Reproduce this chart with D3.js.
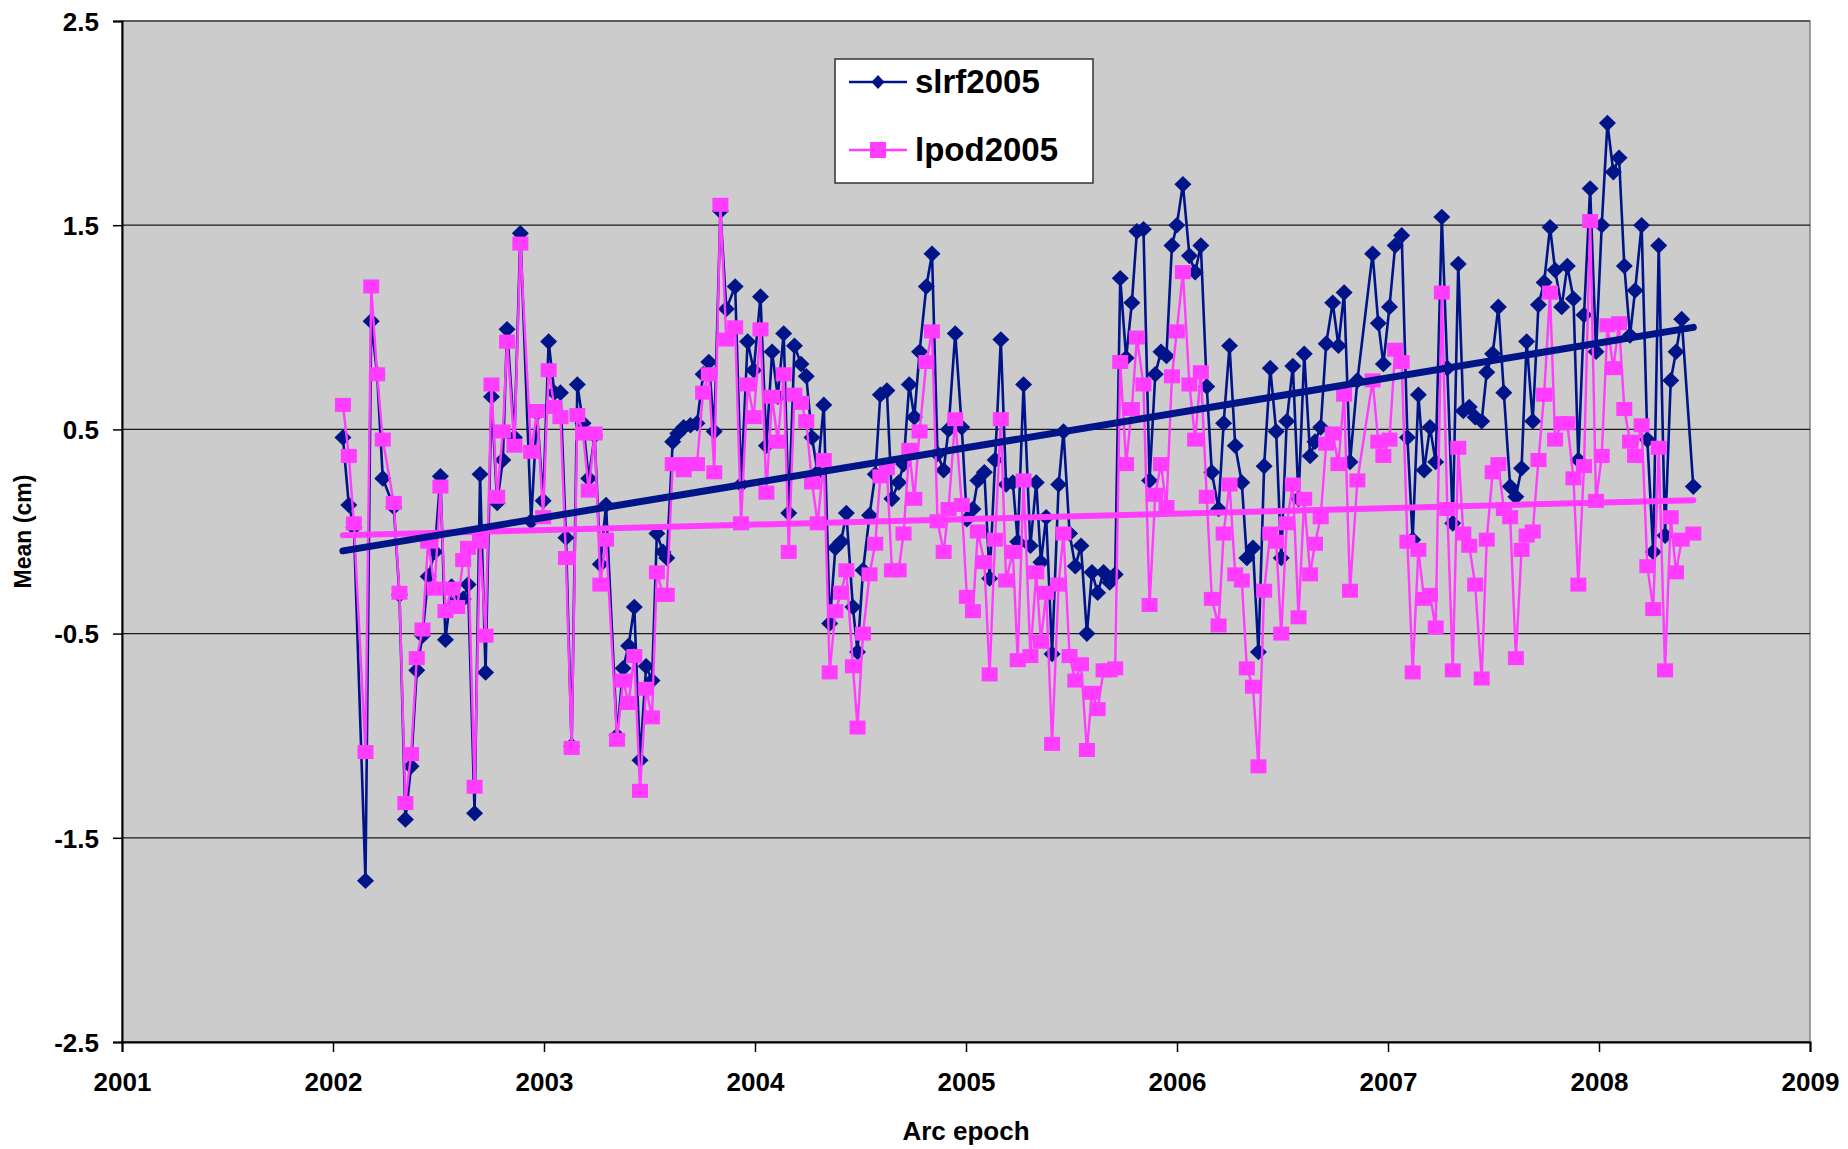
<!DOCTYPE html>
<html>
<head>
<meta charset="utf-8">
<script src="https://cdn.jsdelivr.net/npm/d3@7"></script>
<style>
  body { margin: 0; background: #fff; }
  text { font-family: Arial, "Liberation Sans", sans-serif; font-weight: bold; fill: #000; }
</style>
</head>
<body>
<div id="chart"></div>
<script>
const width = 1848
const height = 1149
const margin = {top: 21, right: 38, bottom: 107, left: 122}

// arc epochs (decimal year)
const epochs = [
  2002.047,2002.075,2002.099,2002.154,2002.181,2002.209,2002.236,2002.288,2002.315,2002.343,
  2002.370,2002.397,2002.424,2002.451,2002.482,2002.509,2002.533,2002.562,2002.589,2002.617,
  2002.640,2002.671,2002.697,2002.723,2002.751,2002.778,2002.805,2002.825,2002.860,2002.888,
  2002.939,2002.967,2002.996,2003.022,2003.049,2003.078,2003.104,2003.131,2003.158,2003.185,
  2003.212,2003.240,2003.267,2003.294,2003.346,2003.375,2003.401,2003.428,2003.455,2003.484,
  2003.512,2003.535,2003.564,2003.582,2003.610,2003.634,2003.662,2003.694,2003.725,2003.754,
  2003.781,2003.807,2003.836,2003.864,2003.906,2003.934,2003.965,2003.994,2004.026,2004.054,
  2004.081,2004.108,2004.136,2004.160,2004.187,2004.218,2004.243,2004.270,2004.297,2004.326,
  2004.354,2004.381,2004.408,2004.433,2004.464,2004.486,2004.512,2004.543,2004.570,2004.594,
  2004.625,2004.649,2004.681,2004.704,2004.731,2004.755,2004.780,2004.812,2004.839,2004.865,
  2004.894,2004.917,2004.949,2004.980,2005.004,2005.033,2005.056,2005.087,2005.112,2005.138,
  2005.165,2005.190,2005.222,2005.245,2005.273,2005.305,2005.333,2005.355,2005.380,2005.408,
  2005.439,2005.462,2005.491,2005.518,2005.545,2005.573,2005.597,2005.624,2005.652,2005.681,
  2005.707,2005.731,2005.759,2005.786,2005.810,2005.841,2005.870,2005.897,2005.924,2005.950,
  2005.976,2005.999,2006.028,2006.059,2006.086,2006.113,2006.141,2006.165,2006.197,2006.221,
  2006.249,2006.276,2006.307,2006.331,2006.360,2006.386,2006.413,2006.442,2006.470,2006.494,
  2006.520,2006.549,2006.576,2006.603,2006.631,2006.654,2006.681,2006.707,2006.738,2006.765,
  2006.792,2006.820,2006.855,2006.927,2006.954,2006.978,2007.007,2007.034,2007.065,2007.092,
  2007.117,2007.144,2007.171,2007.199,2007.226,2007.255,2007.281,2007.307,2007.333,2007.357,
  2007.385,2007.413,2007.444,2007.468,2007.496,2007.523,2007.549,2007.579,2007.606,2007.633,
  2007.657,2007.686,2007.713,2007.740,2007.768,2007.792,2007.823,2007.850,2007.879,2007.902,
  2007.929,2007.958,2007.986,2008.013,2008.040,2008.068,2008.095,2008.120,2008.147,2008.171,
  2008.202,2008.229,2008.257,2008.283,2008.313,2008.340,2008.365,2008.392,2008.447
]

// mean (cm), slrf2005 series
const slrf2005 = [
  0.46,0.13,0.02,-1.71,1.03,0.77,0.26,0.12,-0.31,-1.41,
  -1.15,-0.68,-0.51,-0.22,-0.10,0.27,-0.53,-0.27,-0.34,-0.33,
  -0.26,-1.38,0.28,-0.69,0.66,0.14,0.35,0.99,0.46,1.46,
  0.05,0.58,0.15,0.93,0.68,0.68,-0.03,-1.05,0.72,0.53,
  0.26,0.47,-0.16,0.13,-1.00,-0.67,-0.56,-0.37,-1.12,-0.66,
  -0.73,-0.01,-0.10,-0.13,0.44,0.48,0.51,0.52,0.53,0.77,
  0.83,0.49,1.57,1.09,1.20,0.23,0.93,0.79,1.15,0.42,
  0.88,0.66,0.97,0.09,0.91,0.82,0.76,0.46,0.29,0.62,
  -0.45,-0.08,-0.05,0.09,-0.37,-0.59,-0.19,0.08,0.28,0.67,
  0.69,0.16,0.24,0.33,0.72,0.56,0.88,1.20,1.36,0.38,
  0.30,0.50,0.97,0.51,0.06,0.11,0.25,0.29,-0.23,0.35,
  0.94,0.23,0.24,-0.05,0.72,-0.07,0.24,-0.15,0.07,-0.60,
  0.23,0.49,-0.01,-0.17,-0.07,-0.50,-0.20,-0.30,-0.20,-0.25,
  -0.21,1.24,0.85,1.12,1.47,1.48,0.25,0.77,0.88,0.86,
  1.40,1.50,1.70,1.35,1.27,1.40,0.71,0.29,0.11,0.53,
  0.91,0.42,0.24,-0.13,-0.08,-0.59,0.32,0.80,0.49,-0.13,
  0.54,0.81,0.16,0.87,0.37,0.44,0.51,0.92,1.12,0.91,
  1.17,0.34,0.74,1.36,1.02,0.82,1.10,1.40,1.45,0.46,
  -0.04,0.67,0.30,0.51,0.34,1.54,0.80,0.04,1.31,0.59,
  0.61,0.56,0.54,0.78,0.87,1.10,0.68,0.22,0.17,0.31,
  0.93,0.54,1.11,1.22,1.49,1.28,1.10,1.30,1.14,0.35,
  1.06,1.68,0.88,1.50,2.00,1.76,1.83,1.30,0.96,1.18,
  1.50,0.45,-0.10,1.40,-0.02,0.74,0.88,1.04,0.22
]

// mean (cm), lpod2005 series
const lpod2005 = [
  0.62,0.37,0.04,-1.08,1.20,0.77,0.45,0.14,-0.30,-1.33,
  -1.09,-0.62,-0.48,-0.05,-0.28,0.22,-0.39,-0.28,-0.37,-0.14,
  -0.08,-1.25,-0.05,-0.51,0.72,0.17,0.49,0.93,0.42,1.41,
  0.39,0.59,0.07,0.79,0.61,0.56,-0.13,-1.06,0.57,0.48,
  0.20,0.48,-0.26,-0.04,-1.02,-0.73,-0.84,-0.61,-1.27,-0.77,
  -0.91,-0.20,-0.31,-0.31,0.33,0.33,0.30,0.33,0.33,0.68,
  0.77,0.29,1.60,0.94,1.00,0.04,0.72,0.56,0.99,0.19,
  0.66,0.44,0.77,-0.10,0.67,0.63,0.54,0.24,0.04,0.35,
  -0.69,-0.39,-0.30,-0.19,-0.66,-0.96,-0.50,-0.21,-0.06,0.27,
  0.31,-0.19,-0.19,-0.01,0.40,0.16,0.49,0.83,0.98,0.05,
  -0.10,0.11,0.55,0.13,-0.32,-0.39,0.00,-0.15,-0.70,-0.04,
  0.55,-0.24,-0.10,-0.63,0.25,-0.61,-0.20,-0.54,-0.30,-1.04,
  -0.26,-0.01,-0.61,-0.73,-0.65,-1.07,-0.79,-0.87,-0.68,-0.68,
  -0.67,0.83,0.33,0.60,0.95,0.72,-0.36,0.18,0.33,0.12,
  0.76,0.98,1.27,0.72,0.45,0.78,0.17,-0.33,-0.46,-0.01,
  0.23,-0.21,-0.24,-0.67,-0.76,-1.15,-0.29,-0.01,-0.05,-0.50,
  0.04,0.23,-0.42,0.16,-0.21,-0.06,0.07,0.43,0.48,0.33,
  0.67,-0.29,0.25,0.74,0.44,0.37,0.45,0.89,0.83,-0.05,
  -0.69,-0.09,-0.33,-0.31,-0.47,1.17,0.11,-0.68,0.41,-0.01,
  -0.07,-0.26,-0.72,-0.04,0.29,0.33,0.11,0.07,-0.62,-0.09,
  -0.02,0.00,0.35,0.67,1.17,0.45,0.53,0.53,0.26,-0.26,
  0.32,1.52,0.15,0.37,1.01,0.80,1.02,0.60,0.44,0.37,
  0.52,-0.17,-0.38,0.41,-0.68,0.07,-0.20,-0.04,-0.01
]

const xTicks = [2001, 2002, 2003, 2004, 2005, 2006, 2007, 2008, 2009]
const yTicks = [-2.5, -1.5, -0.5, 0.5, 1.5, 2.5]

const blue = "#001489"
const pink = "#ff3cff"

const xScale = d3.scaleLinear()
    .domain([2001, 2009])
    .range([margin.left, width - margin.right])

const yScale = d3.scaleLinear()
    .domain([-2.5, 2.5])
    .range([height - margin.bottom, margin.top])

const svg = d3.select("#chart")
    .append("svg")
    .attr("width", width)
    .attr("height", height)

// plot area
svg.append("rect")
    .attr("x", margin.left)
    .attr("y", margin.top)
    .attr("width", width - margin.left - margin.right)
    .attr("height", height - margin.top - margin.bottom)
    .attr("fill", "#cccccc")
    .attr("stroke", "#808080")
    .attr("stroke-width", 1.5)

// gridlines
svg.append("g")
    .selectAll("line")
    .data(yTicks)
    .join("line")
    .attr("x1", margin.left)
    .attr("x2", width - margin.right)
    .attr("y1", d => yScale(d))
    .attr("y2", d => yScale(d))
    .attr("stroke", "#1a1a1a")
    .attr("stroke-width", 1.2)

// axes
const yAxis = d3.axisLeft(yScale)
    .tickValues(yTicks)
    .tickFormat(d => d.toFixed(1))   // plain hyphen, like the original
    .tickSize(9)
    .tickPadding(14)
const gy = svg.append("g")
    .attr("transform", `translate(${margin.left},0)`)
    .call(yAxis)
gy.select(".domain").attr("stroke", "#000").attr("stroke-width", 2)
gy.selectAll("line").attr("stroke", "#000").attr("stroke-width", 1.5)
gy.selectAll("text").attr("font-size", 26).attr("dy", "0.36em")

const xAxis = d3.axisBottom(xScale)
    .tickValues(xTicks)
    .tickFormat(d3.format("d"))
    .tickSize(10)
    .tickPadding(21)
const gx = svg.append("g")
    .attr("transform", `translate(0,${height - margin.bottom})`)
    .call(xAxis)
gx.select(".domain").attr("stroke", "#000").attr("stroke-width", 2)
gx.selectAll("line").attr("stroke", "#000").attr("stroke-width", 1.5)
gx.selectAll("text").attr("font-size", 26)

// axis titles
svg.append("text")
    .attr("transform", `translate(31,${(margin.top + height - margin.bottom) / 2}) rotate(-90)`)
    .attr("text-anchor", "middle")
    .attr("font-size", 23)
    .text("Mean (cm)")

svg.append("text")
    .attr("x", xScale(2005))
    .attr("y", 1140)
    .attr("text-anchor", "middle")
    .attr("font-size", 26)
    .text("Arc epoch")

const diamond = "M0,-8.3L8.5,0L0,8.3L-8.5,0Z"

const line = d3.line()
    .x(d => xScale(d[0]))
    .y(d => yScale(d[1]))

const blueData = epochs.map((t, i) => [t, slrf2005[i]])
const pinkData = epochs.map((t, i) => [t, lpod2005[i]])

// slrf2005
svg.append("path")
    .datum(blueData)
    .attr("d", line)
    .attr("fill", "none")
    .attr("stroke", blue)
    .attr("stroke-width", 2.6)
svg.append("g")
    .selectAll("path")
    .data(blueData)
    .join("path")
    .attr("d", diamond)
    .attr("transform", d => `translate(${xScale(d[0])},${yScale(d[1])})`)
    .attr("fill", blue)

// lpod2005
svg.append("path")
    .datum(pinkData)
    .attr("d", line)
    .attr("fill", "none")
    .attr("stroke", pink)
    .attr("stroke-width", 2.4)
svg.append("g")
    .selectAll("rect")
    .data(pinkData)
    .join("rect")
    .attr("x", d => xScale(d[0]) - 8)
    .attr("y", d => yScale(d[1]) - 7)
    .attr("width", 16)
    .attr("height", 14)
    .attr("fill", pink)

// linear trend lines (least squares)
function fit(xs, ys) {
    const mx = d3.mean(xs), my = d3.mean(ys)
    let sxy = 0, sxx = 0
    xs.forEach((x, i) => { sxy += (x - mx) * (ys[i] - my); sxx += (x - mx) * (x - mx) })
    const b = sxy / sxx
    return t => my + b * (t - mx)
}
const ends = [epochs[0], epochs[epochs.length - 1]]
const pinkFit = fit(epochs, lpod2005)
const blueFit = fit(epochs, slrf2005)

svg.append("path")
    .datum(ends.map(t => [t, pinkFit(t)]))
    .attr("d", line)
    .attr("stroke", pink)
    .attr("stroke-width", 6)
    .attr("stroke-linecap", "round")
svg.append("path")
    .datum(ends.map(t => [t, blueFit(t)]))
    .attr("d", line)
    .attr("stroke", blue)
    .attr("stroke-width", 7)
    .attr("stroke-linecap", "round")

// legend
const legend = svg.append("g").attr("transform", "translate(835,59)")
legend.append("rect")
    .attr("width", 258)
    .attr("height", 124)
    .attr("fill", "#fff")
    .attr("stroke", "#333")
    .attr("stroke-width", 1.5)

const items = [
    {name: "slrf2005", color: blue, y: 23},
    {name: "lpod2005", color: pink, y: 91}
]
items.forEach((it, i) => {
    legend.append("line")
        .attr("x1", 14).attr("x2", 72)
        .attr("y1", it.y).attr("y2", it.y)
        .attr("stroke", it.color)
        .attr("stroke-width", 2.6)
    if (i === 0) {
        legend.append("path")
            .attr("d", "M0,-7L6.5,0L0,7L-6.5,0Z")
            .attr("transform", `translate(43,${it.y})`)
            .attr("fill", it.color)
    } else {
        legend.append("rect")
            .attr("x", 35).attr("y", it.y - 8)
            .attr("width", 16).attr("height", 16)
            .attr("fill", it.color)
    }
    legend.append("text")
        .attr("x", 80)
        .attr("y", it.y + 11)
        .attr("font-size", 33)
        .text(it.name)
})
</script>
</body>
</html>
